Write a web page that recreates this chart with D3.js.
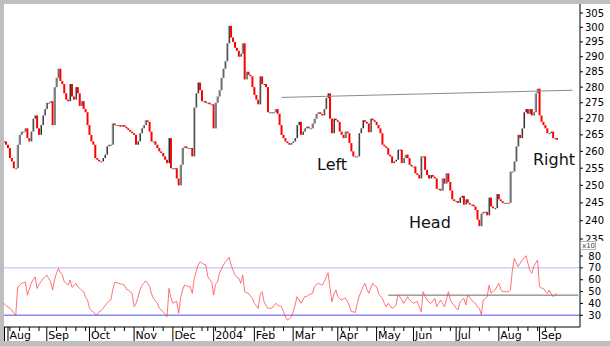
<!DOCTYPE html>
<html>
<head>
<meta charset="utf-8">
<script src="https://cdn.jsdelivr.net/npm/d3@7"></script>
<style>
body { margin: 0; background: #fff; }
svg { display: block; }
</style>
</head>
<body>
<script>
// trading calendar (UK), one bar per day
var startDate = "2003-07-30"
var endDate = "2004-09-14"
var holidays = ["2003-08-25", "2003-12-25", "2003-12-26", "2004-01-01", "2004-04-09",
	"2004-04-12", "2004-05-03", "2004-05-31", "2004-08-30"]

// daily closes
var closes = [
	263, 262, 261, 258, 257, 255, 255, 262, 265, 266,
	266, 267, 264, 263, 266, 270, 271, 267, 265, 268,
	271, 273, 275, 275, 275.5, 268, 280, 283, 286, 282,
	281, 278, 276, 275.5, 281, 277, 276, 280, 278, 274,
	275.5, 273, 272, 268, 265, 263, 262, 258, 257.5, 257,
	257, 258, 259, 261.5, 262, 262, 268.5, 268, 268, 268,
	267.5, 268, 267.5, 267, 266.5, 266, 265.5, 265, 262, 263,
	265.5, 267, 268, 269.5, 269, 266, 263, 263, 262, 261,
	260, 259.5, 258.5, 257.5, 256.5, 264, 255, 255, 255, 252,
	250, 256, 261, 261.5, 261, 261, 261, 258.5, 273.5, 278,
	281.5, 279, 275.5, 275.5, 275, 275, 274.5, 274.5, 267, 275,
	277, 279, 283, 286, 288.5, 294.5, 300.5, 296.5, 295, 293,
	292, 290, 291, 294.5, 282.5, 285, 284, 283.5, 280, 277.5,
	276, 274.5, 283.5, 281, 281, 280, 272, 272, 272, 272,
	273, 271.5, 268, 265, 264, 263, 262.5, 262, 262.5, 263,
	264, 268, 269, 265, 266, 267, 267.5, 267, 267, 268.5,
	270, 271.5, 272, 271.5, 271, 273, 276.5, 278, 270, 265.5,
	270, 269.5, 269, 266, 265, 264, 266, 265.5, 262.5, 260,
	258.5, 258.5, 258.5, 265.5, 267, 269.5, 269, 268.5, 265.8, 270,
	269.5, 269, 268, 267, 265.5, 262, 261.5, 261, 259, 258.5,
	256.5, 257, 257.5, 260.5, 260.5, 256.5, 258, 259, 258, 256,
	255.5, 255.5, 253.5, 253, 252, 258.5, 258.5, 254.5, 253, 252,
	253, 252.5, 252, 249, 249, 248.5, 252, 250.5, 253.5, 251,
	248.5, 246, 245.5, 245.5, 245, 246.5, 247, 244.5, 246, 245,
	244.5, 244.5, 244, 243, 240.3, 238.5, 242, 242.5, 242.5, 241.5,
	246.5, 244, 243.5, 243.5, 247.5, 246, 245.5, 245, 245, 245,
	245, 254, 254, 257, 261.5, 265, 264, 267, 272, 273,
	271.5, 273, 271, 272, 278, 279.5, 271, 269, 268, 267,
	265.5, 265.5, 266, 264, 264, 263.5
]

// RSI, same bars
var rsi = [
	40, 38, 37, 36, 34.5, 32, 30, 54, 55, 57,
	57.5, 57.8, 47, 52, 57, 60, 62.5, 52.7, 56, 58.3,
	61, 62, 64, 61, 58.3, 51.3, 60, 65.4, 69.6, 66,
	64, 58.3, 57, 55.5, 59.8, 53.6, 55, 57, 54, 52.7,
	51, 49.9, 45, 42.9, 35.9, 34, 33, 31, 30.3, 33,
	34, 35.9, 38, 40.1, 42, 42.9, 51.3, 57.8, 57.5, 57,
	56.5, 56, 55.5, 52, 51.3, 50, 48.5, 37.3, 40.1, 45,
	51.3, 55, 57, 59, 57, 54.1, 48, 44.3, 42, 40.1,
	36, 34.5, 33, 31, 28.8, 52.7, 45, 40.1, 41, 41.5,
	31.7, 45, 51.3, 55.5, 55, 54.1, 54.1, 48.5, 61, 67,
	72.2, 75.2, 74, 73, 72.4, 62.6, 60, 58.3, 47.1, 56,
	58.3, 65.4, 69, 72.4, 75, 76.6, 78.9, 72.4, 68, 64,
	62, 61.2, 57, 64, 49.9, 49, 48.5, 46, 44.3, 40.1,
	38, 35.9, 48, 49.9, 41.5, 38, 35.9, 36, 35.9, 38,
	40.1, 38.7, 38, 37.3, 33, 28.8, 26, 27, 28.8, 33,
	38.7, 45.7, 43, 40.1, 43, 45.7, 46, 47.1, 48, 48.5,
	54.1, 56, 57, 56, 55.5, 58.3, 62, 66, 52.7, 41.5,
	48, 51.3, 45.7, 44, 42.9, 44, 44.3, 41.5, 38, 33,
	33, 32.3, 40, 45.7, 50, 54.1, 57, 52, 48.5, 53,
	57, 55, 54.1, 48.5, 46, 44.3, 40, 37.3, 40.1, 38,
	35.9, 37, 38.7, 47.1, 45.7, 43, 40.1, 43, 45.7, 43,
	41.5, 40.1, 41, 41.5, 37, 33, 49.9, 46, 42.9, 41,
	40.1, 42, 44.3, 37.3, 40, 42.9, 40, 37.3, 43, 49.9,
	42.9, 40, 38.7, 36, 34.5, 41.5, 43, 44.3, 38.7, 47.1,
	45, 42.9, 41, 40.1, 37, 35.9, 30.3, 42.9, 44, 45.7,
	55.5, 48.5, 50, 51.3, 54, 57, 52, 49.9, 49.9, 49.9,
	49.9, 51.3, 68.2, 78.1, 74, 71, 74, 76.6, 78, 80.2,
	73.8, 68, 65.4, 71, 74, 76.6, 54.1, 53, 52.7, 50,
	48.5, 51.3, 48, 45.7, 47, 48.5
]

var priceTicks = [235, 240, 245, 250, 255, 260, 265, 270, 275, 280, 285, 290, 295, 300, 305]
var rsiTicks = [30, 40, 50, 60, 70, 80]
var rsiBands = [70, 30]
// neckline: [bar index, price]
var neckline = [[143, 276.7], [293, 279]]
// flat RSI reference: [bar index, rsi]
var rsiRef = [[198, 47], [296, 47]]
var notes = [
	{text: "Left", i: 161.3, p: 254.5},
	{text: "Head", i: 208.7, p: 238.1},
	{text: "Right", i: 272.6, p: 256}
]

////////////////////////////////////////////////////////////////////////////////
// build dates
var fmt = d3.timeFormat("%Y-%m-%d")
var dates = d3.timeDay.range(new Date(startDate + "T00:00"), d3.timeDay.offset(new Date(endDate + "T00:00"), 1))
	.filter(function(d) { return d.getDay() > 0 && d.getDay() < 6 && holidays.indexOf(fmt(d)) < 0 })

var width = 610, height = 346

var svg = d3.select("body").append("svg")
	.attr("width", width)
	.attr("height", height)
	.style("font-family", "'DejaVu Sans', Verdana, sans-serif")

// grey hatched frame
var defs = svg.append("defs")
var pat = defs.append("pattern")
	.attr("id", "hatch").attr("width", 2).attr("height", 2)
	.attr("patternUnits", "userSpaceOnUse")
pat.append("rect").attr("width", 2).attr("height", 2).attr("fill", "#c9c9c9")
pat.append("rect").attr("width", 1).attr("height", 1).attr("fill", "#b4b4b4")
pat.append("rect").attr("x", 1).attr("y", 1).attr("width", 1).attr("height", 1).attr("fill", "#b4b4b4")

svg.append("rect").attr("width", width).attr("height", height).attr("fill", "url(#hatch)")
svg.append("rect").attr("x", 4).attr("y", 4).attr("width", width - 4).attr("height", 337).attr("fill", "#fff")

defs.append("clipPath").attr("id", "top").append("rect")
	.attr("x", 4).attr("y", 4).attr("width", 576).attr("height", 242)
defs.append("clipPath").attr("id", "topAxis").append("rect")
	.attr("x", 0).attr("y", 4).attr("width", 30).attr("height", 237)

// scales
var x = d3.scaleLinear().domain([0, 297]).range([4.1, 580.3])
var y = d3.scaleLog().domain([235, 305]).range([239, 13])
var yr = d3.scaleLinear().domain([30, 80]).range([315.3, 256])

////////////////////////////////////////////////////////////////////////////////
// price bars
var bars = closes.map(function(c, i) {
	var prev = i > 0 ? closes[i - 1] : c
	return {i: i, lo: Math.min(prev, c), hi: Math.max(prev, c), up: c >= prev}
})

var gBars = svg.append("g").attr("clip-path", "url(#top)")
bars.forEach(function(b) {
	var top = y(b.hi), h = Math.max(1, y(b.lo) - y(b.hi))
	if (b.up) {
		gBars.append("rect").attr("x", x(b.i) - 1).attr("y", top).attr("width", 1).attr("height", h).attr("fill", "#9a9a9a")
		gBars.append("rect").attr("x", x(b.i)).attr("y", top).attr("width", 1).attr("height", h).attr("fill", "#2a2a2a")
	} else {
		gBars.append("rect").attr("x", x(b.i) - 1).attr("y", top).attr("width", 2).attr("height", h).attr("fill", "#ff0000")
	}
})

// neckline
gBars.append("line")
	.attr("x1", x(neckline[0][0])).attr("y1", y(neckline[0][1]))
	.attr("x2", x(neckline[1][0])).attr("y2", y(neckline[1][1]))
	.attr("stroke", "#8c8c8c").attr("stroke-width", 1)

// notes
svg.selectAll("text.note").data(notes).enter().append("text")
	.attr("class", "note")
	.attr("x", function(d) { return x(d.i) })
	.attr("y", function(d) { return y(d.p) })
	.attr("font-size", 16)
	.attr("fill", "#111")
	.text(function(d) { return d.text })

////////////////////////////////////////////////////////////////////////////////
// RSI panel
svg.selectAll("line.band").data(rsiBands).enter().append("line")
	.attr("x1", 4).attr("x2", 580)
	.attr("y1", function(d) { return yr(d) }).attr("y2", function(d) { return yr(d) })
	.attr("stroke", function(d) { return d == 30 ? "#8a8af0" : "#b4b8ff" })
	.attr("stroke-width", function(d) { return d == 30 ? 1.6 : 1 })

svg.append("line")
	.attr("x1", x(rsiRef[0][0])).attr("y1", yr(rsiRef[0][1]))
	.attr("x2", x(rsiRef[1][0])).attr("y2", yr(rsiRef[1][1]))
	.attr("stroke", "#666").attr("stroke-width", 1)

svg.append("path")
	.datum(rsi)
	.attr("fill", "none")
	.attr("stroke", "#ff5050")
	.attr("stroke-width", 0.8)
	.attr("d", d3.line().x(function(d, i) { return x(i) }).y(function(d) { return yr(d) }))

////////////////////////////////////////////////////////////////////////////////
// right axes
var gy = svg.append("g").attr("transform", "translate(580,0)")
gy.append("line").attr("y1", 4).attr("y2", 327).attr("stroke", "#000")
var gyTop = gy.append("g").attr("clip-path", "url(#topAxis)")

priceTicks.forEach(function(t) {
	gyTop.append("line").attr("x1", 0).attr("x2", 3).attr("y1", y(t)).attr("y2", y(t)).attr("stroke", "#000")
	gyTop.append("text").attr("x", 24).attr("y", y(t)).attr("dy", "0.36em")
		.attr("text-anchor", "end").attr("font-size", 10).attr("fill", "#000").text(t)
})
rsiTicks.forEach(function(t) {
	gy.append("line").attr("x1", 0).attr("x2", 3).attr("y1", yr(t)).attr("y2", yr(t)).attr("stroke", "#000")
	gy.append("text").attr("x", 21).attr("y", yr(t)).attr("dy", "0.36em")
		.attr("text-anchor", "end").attr("font-size", 10).attr("fill", "#000").text(t)
})

// x10 box
gy.append("rect").attr("x", 0.5).attr("y", 241.5).attr("width", 15).attr("height", 8)
	.attr("fill", "#fff").attr("stroke", "#888").attr("stroke-width", 0.6)
gy.append("text").attr("x", 2).attr("y", 248.3).attr("font-size", 7).attr("fill", "#444").text("x10")

////////////////////////////////////////////////////////////////////////////////
// bottom time axis
var gx = svg.append("g")
gx.append("line").attr("x1", 4).attr("x2", 580).attr("y1", 327).attr("y2", 327).attr("stroke", "#000")

var monthStarts = [], weekStarts = []
dates.forEach(function(d, i) {
	if (i == 0) return
	var p = dates[i - 1]
	if (d.getMonth() != p.getMonth()) monthStarts.push(i)
	else if (d3.timeMonday.floor(d) > p) weekStarts.push(i)
})

gx.selectAll("line.minor").data(weekStarts).enter().append("line")
	.attr("x1", function(i) { return x(i) }).attr("x2", function(i) { return x(i) })
	.attr("y1", 327).attr("y2", 331).attr("stroke", "#000")
gx.selectAll("line.major").data(monthStarts).enter().append("line")
	.attr("x1", function(i) { return x(i) }).attr("x2", function(i) { return x(i) })
	.attr("y1", 327).attr("y2", 341).attr("stroke", "#000")
gx.append("line").attr("x1", 4.5).attr("x2", 4.5).attr("y1", 327).attr("y2", 341).attr("stroke", "#000")

var monthName = d3.timeFormat("%b")
gx.selectAll("text.month").data(monthStarts).enter().append("text")
	.attr("x", function(i) { return x(i) + 1.5 })
	.attr("y", 339)
	.attr("font-size", 11)
	.attr("fill", "#000")
	.text(function(i) { return dates[i].getMonth() == 0 ? dates[i].getFullYear() : monthName(dates[i]) })
</script>
</body>
</html>
